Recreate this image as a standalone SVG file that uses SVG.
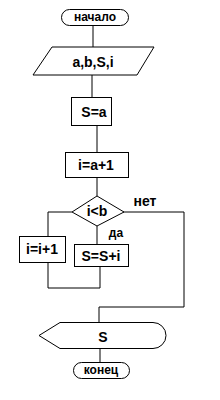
<svg xmlns="http://www.w3.org/2000/svg" width="220" height="400" viewBox="0 0 220 400">
<style>
.s{fill:#fff;stroke:#000;stroke-width:1}
.c{fill:none;stroke:#000;stroke-width:1}
.t{font-family:"Liberation Sans",Arial,sans-serif;font-weight:bold;font-size:14px;text-anchor:middle;dominant-baseline:central;fill:#000}
.m{font-size:12px}
</style>
<rect width="220" height="400" fill="#fff"/>
<g id="connectors">
<path class="c" d="M93,25V47"/>
<path class="c" d="M92,75V97"/>
<path class="c" d="M97,125V152"/>
<path class="c" d="M97,177V196"/>
<path class="c" d="M97,226V244"/>
<path class="c" d="M72,212H48V236"/>
<path class="c" d="M100,266V288H48V262"/>
<path class="c" d="M123,212H184V307H99V322"/>
<path class="c" d="M100,348V362"/>
</g>
<g id="start"><rect class="s" x="61.5" y="9.5" width="67" height="16" rx="8"/><text class="t m" x="95" y="17">начало</text></g>
<g id="input"><polygon class="s" points="52,47 154,47 137,75 33,75"/><text class="t" x="93" y="62">a,b,S,i</text></g>
<g id="s_a"><rect class="s" x="71.5" y="97.5" width="40" height="28"/><text class="t" x="94" y="112">S=a</text></g>
<g id="i_a1"><rect class="s" x="65.5" y="152.5" width="63" height="25"/><text class="t" x="96" y="165">i=a+1</text></g>
<g id="cond"><polygon class="s" points="97,196 124,212 97,226 72,212"/><text class="t" x="97" y="211">i&lt;b</text></g>
<g id="label_no"><text class="t" x="145" y="201">нет</text></g>
<g id="label_yes"><text class="t m" x="116" y="233">да</text></g>
<g id="i_inc"><rect class="s" x="19.5" y="236.5" width="46" height="26"/><text class="t" x="42" y="249">i=i+1</text></g>
<g id="s_add"><rect class="s" x="74.5" y="244.5" width="54" height="22"/><text class="t" x="101" y="256">S=S+i</text></g>
<g id="output"><path class="s" d="M60,322.5H153A13,13 0 0 1 153,348.5H60L39,335.5Z"/><text class="t" x="103" y="337">S</text></g>
<g id="end"><rect class="s" x="73.5" y="362.5" width="56" height="16" rx="8"/><text class="t m" x="101" y="370">конец</text></g>
</svg>
